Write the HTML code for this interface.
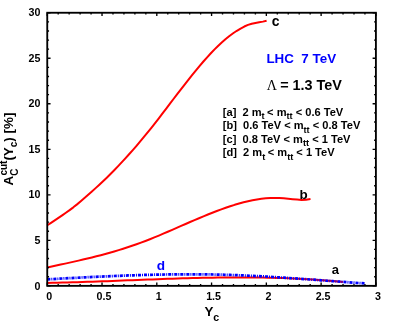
<!DOCTYPE html>
<html><head><meta charset="utf-8">
<style>
html,body{margin:0;padding:0;background:#fff;}
body{width:396px;height:332px;overflow:hidden;}
svg{display:block;will-change:transform;}
text{font-family:"Liberation Sans",sans-serif;font-weight:bold;fill:#000;}
.tl{font-size:10.7px;}
</style></head><body>
<svg width="396" height="332" viewBox="0 0 396 332">
<rect width="396" height="332" fill="#fff"/>
<g fill="none" stroke-linecap="butt" stroke-linejoin="round">
<path stroke="#f00" stroke-width="2.0" d="M47.30,282.93 L52.31,282.84 L57.32,282.73 L62.34,282.61 L67.35,282.48 L72.36,282.35 L77.37,282.20 L82.38,282.04 L87.39,281.87 L92.41,281.70 L97.42,281.52 L102.43,281.34 L107.44,281.15 L112.45,280.96 L117.47,280.76 L122.48,280.57 L127.49,280.37 L132.50,280.17 L137.51,279.97 L142.53,279.77 L147.54,279.58 L152.55,279.39 L157.56,279.20 L162.57,279.02 L167.58,278.84 L172.60,278.67 L177.61,278.50 L182.62,278.35 L187.63,278.20 L192.64,278.06 L197.66,277.94 L202.67,277.82 L207.68,277.72 L212.69,277.63 L217.70,277.55 L222.72,277.49 L227.73,277.44 L232.74,277.41 L237.75,277.39 L242.76,277.39 L247.77,277.41 L252.79,277.45 L257.80,277.50 L262.81,277.58 L267.82,277.67 L272.83,277.79 L277.85,277.93 L282.86,278.09 L287.87,278.27 L292.88,278.48 L297.89,278.71 L302.91,278.97 L307.92,279.25 L312.93,279.56 L317.94,279.90 L322.95,280.26 L327.96,280.65 L332.98,281.08 L337.99,281.53 L343.00,282.01"/>
<path stroke="#f00" stroke-width="2.0" d="M47.30,267.44 L51.76,266.49 L56.22,265.55 L60.68,264.59 L65.14,263.63 L69.61,262.64 L74.07,261.64 L78.53,260.62 L82.99,259.59 L87.45,258.54 L91.91,257.45 L96.37,256.33 L100.83,255.17 L105.29,253.98 L109.75,252.75 L114.22,251.48 L118.68,250.15 L123.14,248.75 L127.60,247.31 L132.06,245.81 L136.52,244.25 L140.98,242.63 L145.44,240.95 L149.90,239.20 L154.36,237.41 L158.83,235.57 L163.29,233.69 L167.75,231.79 L172.21,229.84 L176.67,227.88 L181.13,225.92 L185.59,223.97 L190.05,222.04 L194.51,220.12 L198.97,218.23 L203.44,216.37 L207.90,214.54 L212.36,212.77 L216.82,211.04 L221.28,209.39 L225.74,207.80 L230.20,206.28 L234.66,204.83 L239.12,203.49 L243.58,202.27 L248.05,201.18 L252.51,200.23 L256.97,199.42 L261.43,198.79 L265.89,198.32 L270.35,198.02 L274.81,197.90 L279.27,198.01 L283.73,198.37 L288.19,198.82 L292.66,199.18 L297.12,199.56 L301.58,199.89 L306.04,199.67 L310.50,198.97"/>
<path stroke="#f00" stroke-width="2.0" d="M47.30,225.22 L51.02,222.82 L54.73,220.39 L58.45,217.91 L62.17,215.38 L65.88,212.79 L69.60,210.13 L73.32,207.33 L77.04,204.37 L80.75,201.28 L84.47,198.09 L88.19,194.82 L91.90,191.49 L95.62,188.12 L99.34,184.71 L103.05,181.23 L106.77,177.67 L110.49,174.01 L114.21,170.22 L117.92,166.32 L121.64,162.34 L125.36,158.32 L129.07,154.25 L132.79,150.07 L136.51,145.79 L140.22,141.41 L143.94,136.96 L147.66,132.42 L151.37,127.78 L155.09,123.07 L158.81,118.28 L162.53,113.45 L166.24,108.57 L169.96,103.66 L173.68,98.76 L177.39,93.91 L181.11,89.11 L184.83,84.34 L188.54,79.60 L192.26,74.91 L195.98,70.32 L199.69,65.85 L203.41,61.50 L207.13,57.30 L210.85,53.26 L214.56,49.39 L218.28,45.71 L222.00,42.24 L225.71,38.99 L229.43,35.98 L233.15,33.25 L236.86,30.77 L240.58,28.52 L244.30,26.52 L248.02,24.89 L251.73,23.73 L255.45,22.91 L259.17,22.27 L262.88,21.63 L266.60,20.80"/>
<path stroke="#00f" stroke-width="2.7" stroke-dasharray="3.05 1 1 1" d="M47.30,279.37 L52.68,279.07 L58.06,278.77 L63.44,278.47 L68.83,278.18 L74.21,277.90 L79.59,277.62 L84.97,277.35 L90.35,277.08 L95.73,276.82 L101.11,276.57 L106.49,276.33 L111.88,276.10 L117.26,275.88 L122.64,275.67 L128.02,275.47 L133.40,275.29 L138.78,275.12 L144.16,274.96 L149.55,274.82 L154.93,274.69 L160.31,274.58 L165.69,274.49 L171.07,274.41 L176.45,274.35 L181.83,274.32 L187.22,274.30 L192.60,274.30 L197.98,274.32 L203.36,274.37 L208.74,274.44 L214.12,274.53 L219.50,274.64 L224.88,274.78 L230.27,274.95 L235.65,275.13 L241.03,275.34 L246.41,275.58 L251.79,275.83 L257.17,276.10 L262.55,276.39 L267.94,276.69 L273.32,277.01 L278.70,277.34 L284.08,277.69 L289.46,278.04 L294.84,278.41 L300.22,278.78 L305.61,279.16 L310.99,279.55 L316.37,279.94 L321.75,280.33 L327.13,280.73 L332.51,281.12 L337.89,281.52 L343.27,281.91 L348.66,282.30 L354.04,282.69 L359.42,283.07 L364.80,283.44"/>
</g>
<rect x="47.25" y="12.75" width="328.65" height="273.10" fill="none" stroke="#000" stroke-width="1.85"/>
<path d="M47.25,285.85v-3.30 M47.25,12.75v3.30 M58.20,285.85v-1.80 M58.20,12.75v1.80 M69.16,285.85v-1.80 M69.16,12.75v1.80 M80.11,285.85v-1.80 M80.11,12.75v1.80 M91.07,285.85v-1.80 M91.07,12.75v1.80 M102.03,285.85v-3.30 M102.03,12.75v3.30 M112.98,285.85v-1.80 M112.98,12.75v1.80 M123.93,285.85v-1.80 M123.93,12.75v1.80 M134.89,285.85v-1.80 M134.89,12.75v1.80 M145.84,285.85v-1.80 M145.84,12.75v1.80 M156.80,285.85v-3.30 M156.80,12.75v3.30 M167.75,285.85v-1.80 M167.75,12.75v1.80 M178.71,285.85v-1.80 M178.71,12.75v1.80 M189.66,285.85v-1.80 M189.66,12.75v1.80 M200.62,285.85v-1.80 M200.62,12.75v1.80 M211.57,285.85v-3.30 M211.57,12.75v3.30 M222.53,285.85v-1.80 M222.53,12.75v1.80 M233.48,285.85v-1.80 M233.48,12.75v1.80 M244.44,285.85v-1.80 M244.44,12.75v1.80 M255.39,285.85v-1.80 M255.39,12.75v1.80 M266.35,285.85v-3.30 M266.35,12.75v3.30 M277.30,285.85v-1.80 M277.30,12.75v1.80 M288.26,285.85v-1.80 M288.26,12.75v1.80 M299.22,285.85v-1.80 M299.22,12.75v1.80 M310.17,285.85v-1.80 M310.17,12.75v1.80 M321.12,285.85v-3.30 M321.12,12.75v3.30 M332.08,285.85v-1.80 M332.08,12.75v1.80 M343.03,285.85v-1.80 M343.03,12.75v1.80 M353.99,285.85v-1.80 M353.99,12.75v1.80 M364.94,285.85v-1.80 M364.94,12.75v1.80 M375.90,285.85v-3.30 M375.90,12.75v3.30 M47.25,285.85h3.30 M375.90,285.85h-3.30 M47.25,276.75h1.80 M375.90,276.75h-1.80 M47.25,267.64h1.80 M375.90,267.64h-1.80 M47.25,258.54h1.80 M375.90,258.54h-1.80 M47.25,249.44h1.80 M375.90,249.44h-1.80 M47.25,240.33h3.30 M375.90,240.33h-3.30 M47.25,231.23h1.80 M375.90,231.23h-1.80 M47.25,222.13h1.80 M375.90,222.13h-1.80 M47.25,213.02h1.80 M375.90,213.02h-1.80 M47.25,203.92h1.80 M375.90,203.92h-1.80 M47.25,194.82h3.30 M375.90,194.82h-3.30 M47.25,185.71h1.80 M375.90,185.71h-1.80 M47.25,176.61h1.80 M375.90,176.61h-1.80 M47.25,167.51h1.80 M375.90,167.51h-1.80 M47.25,158.40h1.80 M375.90,158.40h-1.80 M47.25,149.30h3.30 M375.90,149.30h-3.30 M47.25,140.20h1.80 M375.90,140.20h-1.80 M47.25,131.09h1.80 M375.90,131.09h-1.80 M47.25,121.99h1.80 M375.90,121.99h-1.80 M47.25,112.89h1.80 M375.90,112.89h-1.80 M47.25,103.78h3.30 M375.90,103.78h-3.30 M47.25,94.68h1.80 M375.90,94.68h-1.80 M47.25,85.58h1.80 M375.90,85.58h-1.80 M47.25,76.47h1.80 M375.90,76.47h-1.80 M47.25,67.37h1.80 M375.90,67.37h-1.80 M47.25,58.27h3.30 M375.90,58.27h-3.30 M47.25,49.16h1.80 M375.90,49.16h-1.80 M47.25,40.06h1.80 M375.90,40.06h-1.80 M47.25,30.96h1.80 M375.90,30.96h-1.80 M47.25,21.85h1.80 M375.90,21.85h-1.80 M47.25,12.75h3.30 M375.90,12.75h-3.30" stroke="#000" stroke-width="1.35" fill="none"/>
<g class="tl" text-anchor="end">
<text x="40.5" y="289.5">0</text>
<text x="40.5" y="243.9">5</text>
<text x="40.5" y="198.4">10</text>
<text x="40.5" y="152.9">15</text>
<text x="40.5" y="107.4">20</text>
<text x="40.5" y="61.9">25</text>
<text x="40.5" y="16.4">30</text>
</g>
<g class="tl" text-anchor="middle">
<text x="49.2" y="300.4">0</text>
<text x="104.0" y="300.4">0.5</text>
<text x="158.8" y="300.4">1</text>
<text x="213.6" y="300.4">1.5</text>
<text x="268.4" y="300.4">2</text>
<text x="323.1" y="300.4">2.5</text>
<text x="377.9" y="300.4">3</text>
</g>

<text x="204.4" y="316.3" font-size="13.4">Y<tspan font-size="10.6" dy="4.2">c</tspan></text>
<g transform="translate(12.7,185.5) rotate(-90)">
<text x="0" y="0" font-size="13.4">A<tspan font-size="10" dy="4.8">C</tspan><tspan font-size="10" dy="-10.5" dx="-7">cut</tspan><tspan dy="5.7">(Y</tspan><tspan font-size="10" dy="4">c</tspan><tspan dy="-4">) [%]</tspan></text>
</g>
<text x="266.4" y="62.7" font-size="13.4" style="fill:#00f" xml:space="preserve">LHC  7 TeV</text>
<text x="266.8" y="90.3" font-size="14.4"><tspan font-family="Liberation Serif" font-weight="normal" font-size="14">Λ</tspan><tspan dx="-0.8"> = 1.3 TeV</tspan></text>
<g font-size="11.08">
<text x="222.8" y="115.8" xml:space="preserve">[a]  2 m<tspan font-size="9.2" dy="3.5">t</tspan><tspan dy="-3.5" dx="-0.6"> &lt; m</tspan><tspan font-size="9.2" dy="3.5">tt</tspan><tspan dy="-3.5"> &lt; 0.6 TeV</tspan></text>
<text x="222.8" y="129.0" xml:space="preserve">[b]  0.6 TeV &lt; m<tspan font-size="9.2" dy="3.5">tt</tspan><tspan dy="-3.5"> &lt; 0.8 TeV</tspan></text>
<text x="222.8" y="142.7" xml:space="preserve">[c]  0.8 TeV &lt; m<tspan font-size="9.2" dy="3.5">tt</tspan><tspan dy="-3.5"> &lt; 1 TeV</tspan></text>
<text x="222.8" y="156.0" xml:space="preserve">[d]  2 m<tspan font-size="9.2" dy="3.5">t</tspan><tspan dy="-3.5" dx="-0.6"> &lt; m</tspan><tspan font-size="9.2" dy="3.5">tt</tspan><tspan dy="-3.5"> &lt; 1 TeV</tspan></text>
</g>
<text x="271.7" y="26.3" font-size="13.9">c</text>
<text x="299.4" y="199" font-size="13.4">b</text>
<text x="331.85" y="274.2" font-size="13">a</text>
<text x="156.75" y="269.85" font-size="13.6" style="fill:#00f">d</text>

</svg>
</body></html>
